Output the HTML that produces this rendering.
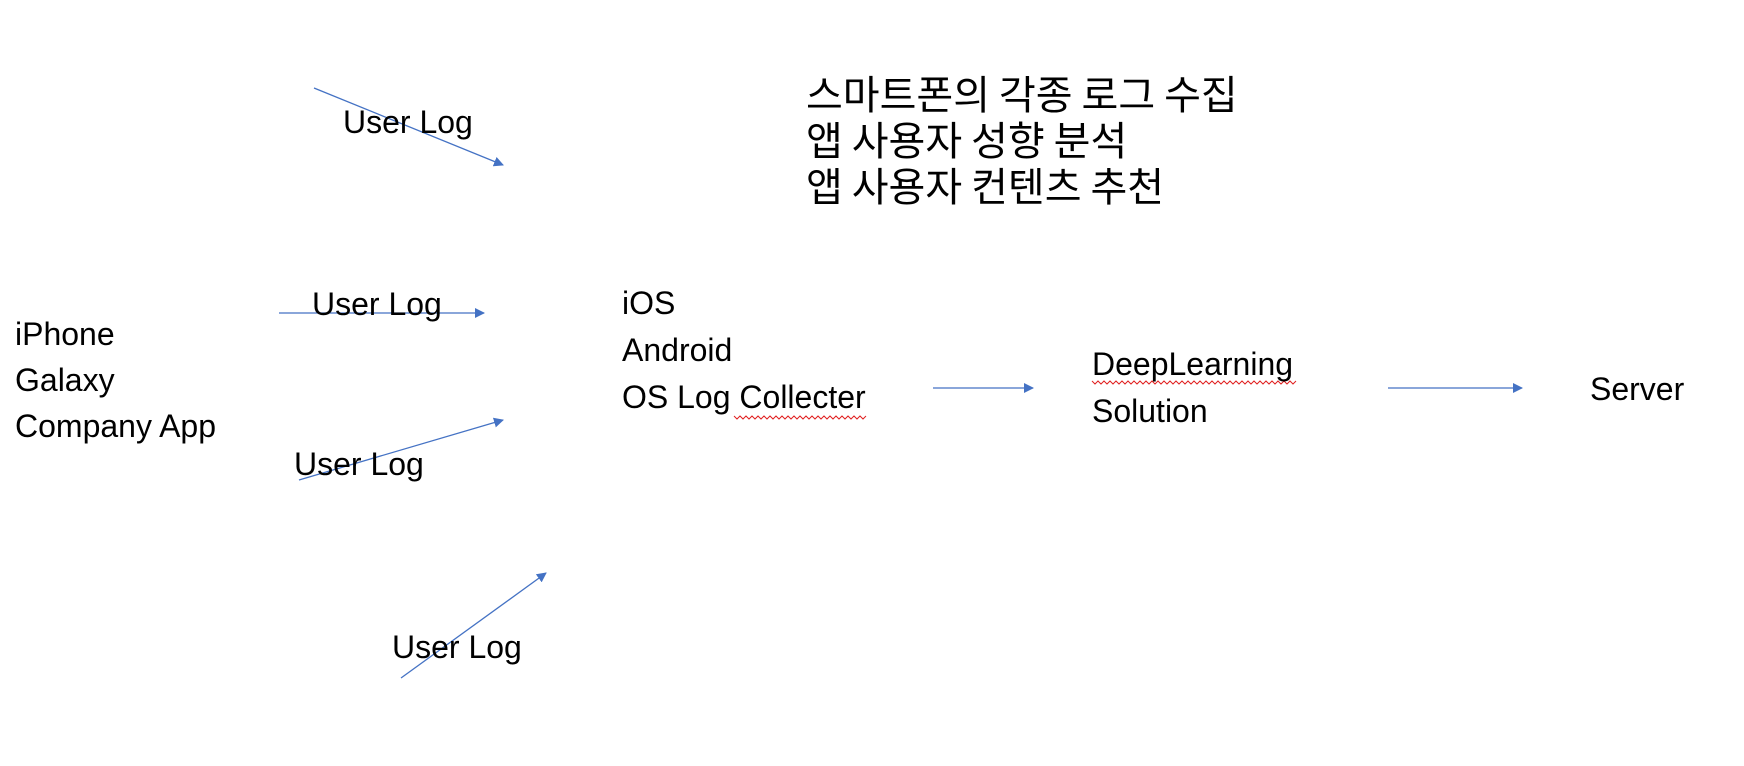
<!DOCTYPE html>
<html><head><meta charset="utf-8"><style>
body{margin:0;width:1744px;height:766px;background:#fff;position:relative;overflow:hidden;font-family:"Liberation Sans","Noto Sans CJK KR",sans-serif;color:#000}
.t{position:absolute;font-size:32px;line-height:32px;white-space:nowrap}
.k{position:absolute;font-family:"Noto Sans CJK KR",sans-serif;font-size:40px;line-height:46px;left:806px;top:69px;white-space:nowrap}
svg{position:absolute;left:0;top:0}
</style></head><body>
<svg width="1744" height="766">
<defs><marker id="a" markerWidth="10" markerHeight="10" refX="9" refY="5" orient="auto" markerUnits="userSpaceOnUse"><path d="M0,0 L10,5 L0,10 z" fill="#4472C4"/></marker></defs>
<g stroke="#4472C4" stroke-width="1.3" fill="none" marker-end="url(#a)">
<line x1="314" y1="88" x2="503" y2="165"/>
<line x1="279" y1="313" x2="484" y2="313"/>
<line x1="299" y1="480" x2="503" y2="420"/>
<line x1="401" y1="678" x2="546" y2="573"/>
<line x1="933" y1="388" x2="1033" y2="388"/>
<line x1="1388" y1="388" x2="1522" y2="388"/>
</g>
<g stroke="#e02020" stroke-width="1" fill="none">
<path d="M734,416 l3,3 l3,-3 l3,3 l3,-3 l3,3 l3,-3 l3,3 l3,-3 l3,3 l3,-3 l3,3 l3,-3 l3,3 l3,-3 l3,3 l3,-3 l3,3 l3,-3 l3,3 l3,-3 l3,3 l3,-3 l3,3 l3,-3 l3,3 l3,-3 l3,3 l3,-3 l3,3 l3,-3 l3,3 l3,-3 l3,3 l3,-3 l3,3 l3,-3 l3,3 l3,-3 l3,3 l3,-3 l3,3 l3,-3 l3,3 l3,-3"/>
<path d="M1092,381 l3,3 l3,-3 l3,3 l3,-3 l3,3 l3,-3 l3,3 l3,-3 l3,3 l3,-3 l3,3 l3,-3 l3,3 l3,-3 l3,3 l3,-3 l3,3 l3,-3 l3,3 l3,-3 l3,3 l3,-3 l3,3 l3,-3 l3,3 l3,-3 l3,3 l3,-3 l3,3 l3,-3 l3,3 l3,-3 l3,3 l3,-3 l3,3 l3,-3 l3,3 l3,-3 l3,3 l3,-3 l3,3 l3,-3 l3,3 l3,-3 l3,3 l3,-3 l3,3 l3,-3 l3,3 l3,-3 l3,3 l3,-3 l3,3 l3,-3 l3,3 l3,-3 l3,3 l3,-3 l3,3 l3,-3 l3,3 l3,-3 l3,3 l3,-3 l3,3 l3,-3 l3,3 l3,-3"/>
</g>
</svg>
<div class="k">스마트폰의 각종 로그 수집<br>앱 사용자 성향 분석<br>앱 사용자 컨텐츠 추천</div>
<div class="t" style="left:343px;top:106px">User Log</div>
<div class="t" style="left:312px;top:288px">User Log</div>
<div class="t" style="left:294px;top:448px">User Log</div>
<div class="t" style="left:392px;top:631px">User Log</div>
<div class="t" style="left:15px;top:311px;line-height:46px">iPhone<br>Galaxy<br>Company App</div>
<div class="t" style="left:622px;top:280px;line-height:47px">iOS<br>Android<br>OS Log Collecter</div>
<div class="t" style="left:1092px;top:341px;line-height:47px">DeepLearning<br>Solution</div>
<div class="t" style="left:1590px;top:373px">Server</div>
</body></html>
